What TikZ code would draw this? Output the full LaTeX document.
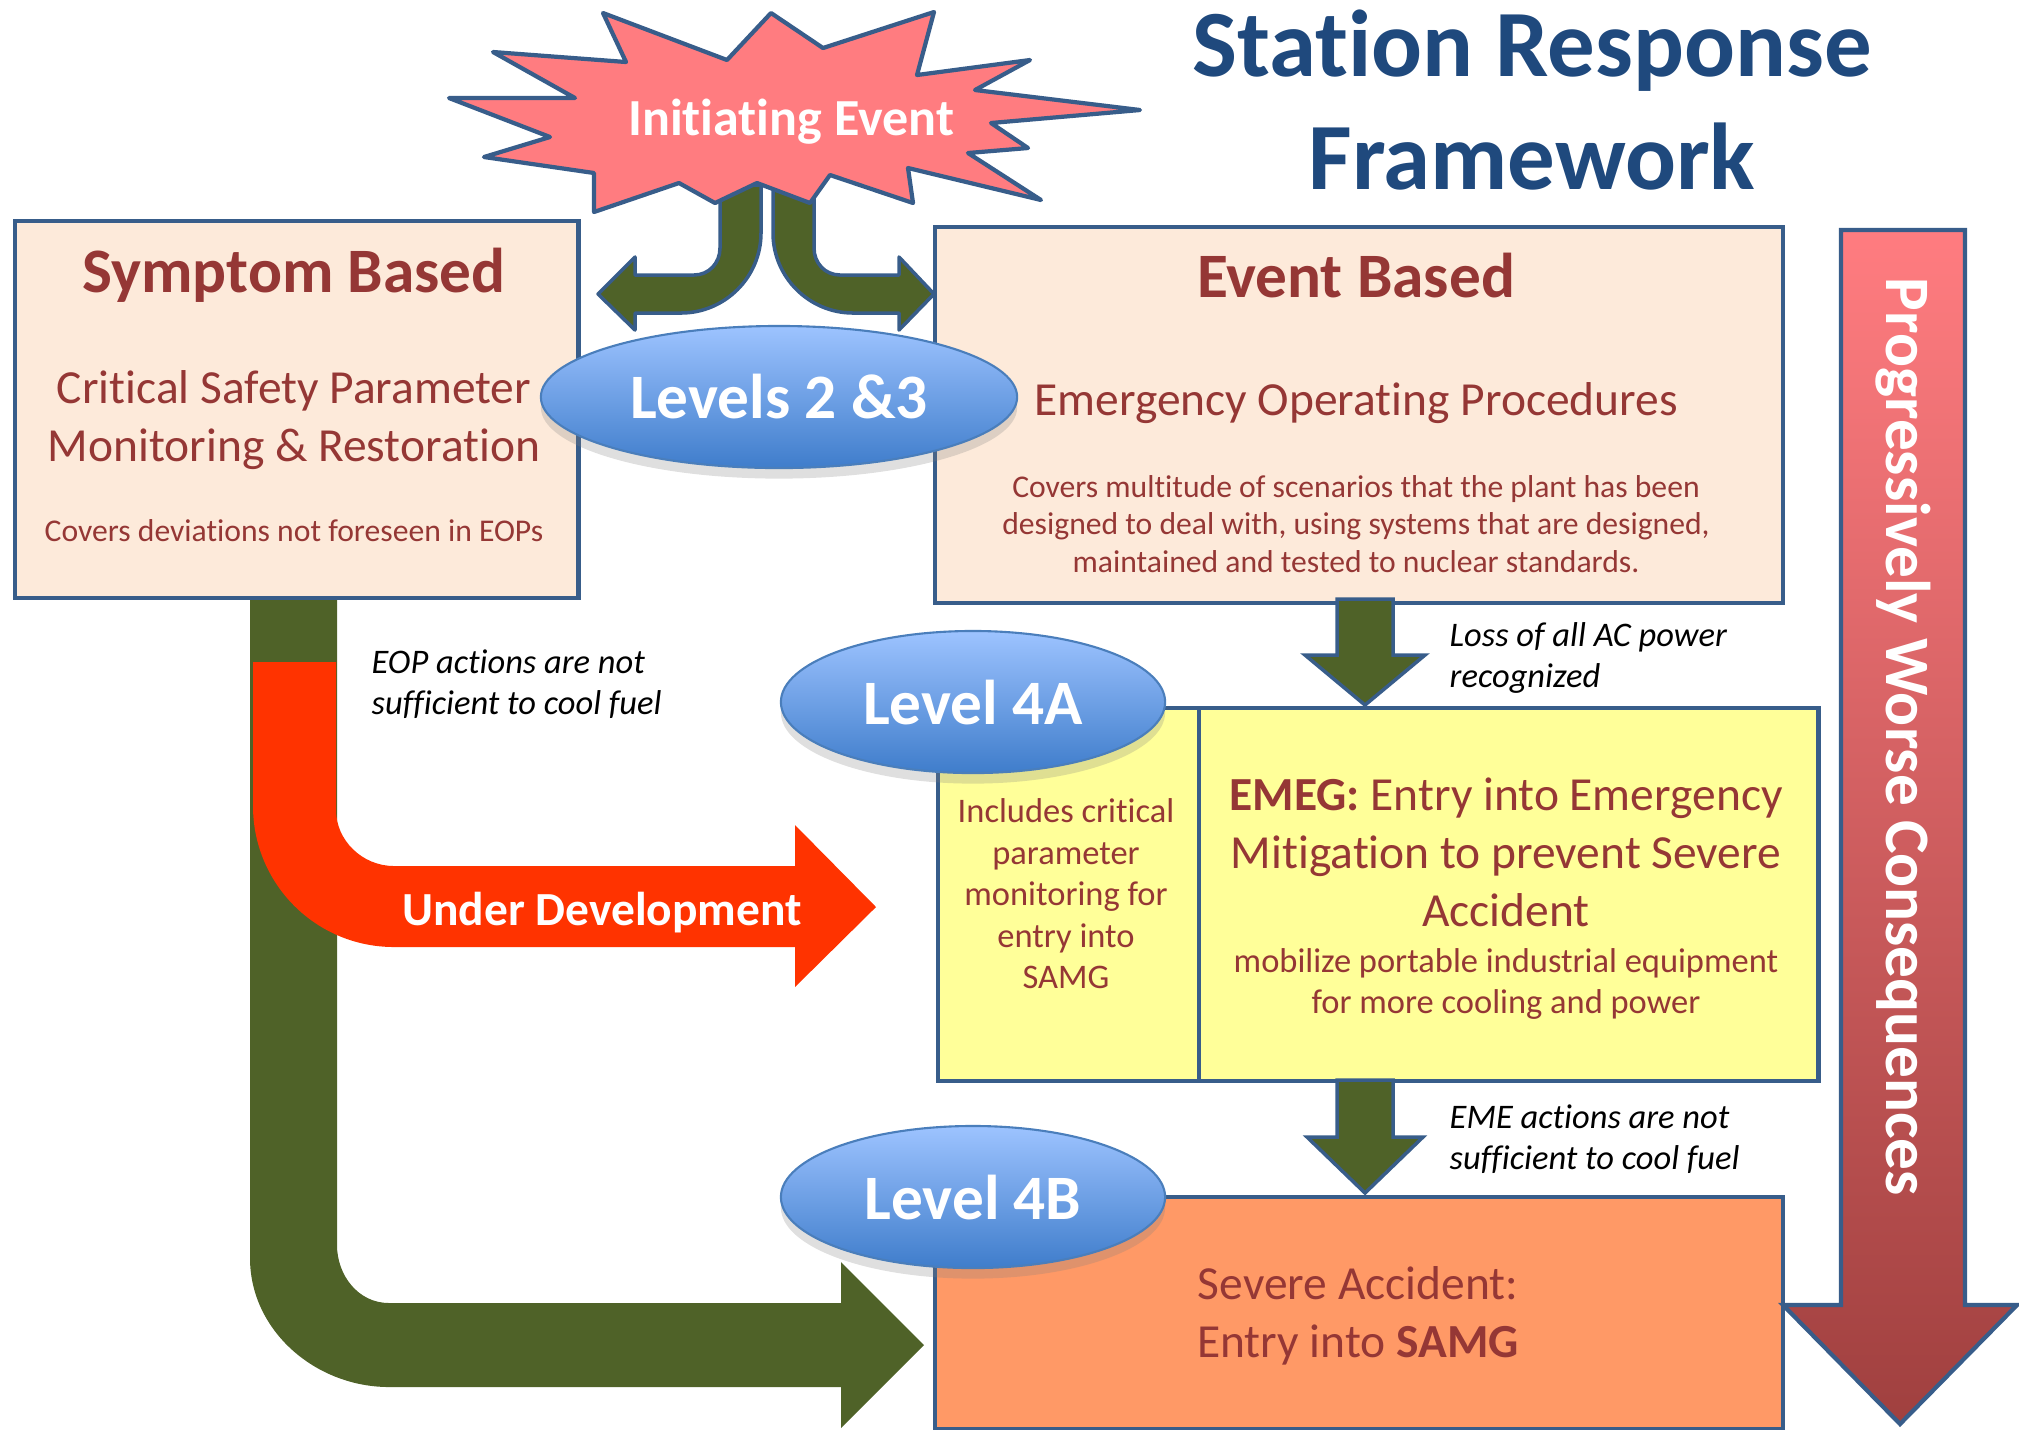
\documentclass[tikz,border=0pt]{standalone}
\usepackage{fontspec}
\setmainfont{Carlito}[Ligatures=NoCommon]
\usepackage{xcolor}
\usepackage{tikz}
\usetikzlibrary{shapes.geometric}
\usetikzlibrary{shadows}

\definecolor{boxline}{HTML}{385D8A}
\definecolor{peach}{HTML}{FDEADA}
\definecolor{textred}{HTML}{953735}
\definecolor{paleyellow}{HTML}{FFFF99}
\definecolor{samgorange}{HTML}{FF9966}
\definecolor{olive}{HTML}{4F6228}
\definecolor{devred}{HTML}{FF3300}
\definecolor{starpink}{HTML}{FF7C80}
\definecolor{titleblue}{HTML}{1F497D}
\definecolor{elltop}{HTML}{9DC3FF}
\definecolor{ellbot}{HTML}{3F7DCB}
\definecolor{ellline}{HTML}{4A7EBB}
\definecolor{worsebot}{HTML}{A0403F}

\begin{document}
\begin{tikzpicture}[x=0.01cm, y=-0.01cm,
		box/.style={draw=boxline, line width=1.2pt, anchor=north west, inner sep=0pt},
		levelbubble/.style={ellipse, draw=ellline, line width=0.6pt, top color=elltop, bottom color=ellbot, minimum height=1.42cm, text=white, font=\fontsize{18}{21}\selectfont\bfseries, drop shadow={shadow xshift=0pt, shadow yshift=-3pt, opacity=0.25}},
		greenarrow/.style={draw=boxline, line width=1pt, fill=olive, line join=round},
		bigtext/.style={font=\fontsize{18}{21}\selectfont\bfseries, text=textred, inner sep=0pt},
		medtext/.style={font=\fontsize{13.5}{16.5}\selectfont, text=textred, align=center, inner sep=0pt},
		smalltext/.style={font=\fontsize{9}{10.7}\selectfont, text=textred, align=center, inner sep=0pt},
		boxnote/.style={font=\fontsize{9.8}{11.8}\selectfont, text=textred, align=center, inner sep=0pt},
		sidenote/.style={font=\fontsize{9.8}{11.7}\selectfont\itshape, align=left, anchor=west, inner sep=0pt},
		whitetext/.style={text=white, font=\fontsize{13.5}{16.5}\selectfont\bfseries, inner sep=0pt}]
		\useasboundingbox (0,0) rectangle (2019,1429);

		\fill[olive] (250,590) -- (250,1258) .. controls (250,1331) and (316,1387) .. (389,1387) -- (841,1387) -- (841,1428) -- (924,1345) -- (841,1262) -- (841,1303) -- (389,1303) .. controls (358,1303) and (337,1275) .. (337,1245) -- (337,590) -- cycle;
		\fill[devred] (253,662) -- (253,806) .. controls (253,884) and (316,947) .. (394,947) -- (795,947) -- (795,987) -- (876,907) -- (795,825) -- (795,866) -- (394,866) .. controls (362,866) and (336,840) .. (336,810) -- (336,662) -- cycle;

		\node[box, fill=peach, minimum width=5.63cm, minimum height=3.77cm] (symptom) at (13,219) {};
		\node[box, fill=peach, minimum width=8.47cm, minimum height=3.76cm] (event) at (933,225) {};
		\node[box, fill=paleyellow, minimum width=2.61cm, minimum height=3.73cm] (emegleft) at (936,706) {};
		\node[box, fill=paleyellow, minimum width=6.19cm, minimum height=3.73cm] (emeg) at (1197,706) {};
		\node[box, fill=samgorange, minimum width=8.47cm, minimum height=2.32cm] (severe) at (933,1195) {};

		\draw[greenarrow] (761,185) -- (761,233) .. controls (761,277) and (725,313) .. (681,313) -- (635,313) -- (635,330) -- (598,294) -- (635,257) -- (635,275) -- (694,275) .. controls (709,275) and (720,263) .. (720,248) -- (720,185) -- cycle;
		\draw[greenarrow] (773,185) -- (773,233) .. controls (773,277) and (809,313) .. (853,313) -- (899,313) -- (899,330) -- (934,294) -- (899,257) -- (899,275) -- (840,275) .. controls (825,275) and (814,263) .. (814,248) -- (814,185) -- cycle;
		\draw[fill=starpink, draw=boxline, line width=1.2pt, line join=round] (603,13) -- (626,62) -- (493,52) -- (575,98) -- (449,98) -- (550,137) -- (484,157) -- (594,173) -- (594,212) -- (679,183) -- (715,203) -- (757,183) -- (810,203) -- (830,175) -- (913,203) -- (908,168) -- (1041,200) -- (968,153) -- (1028,148) -- (991,123) -- (1140,110) -- (975,90) -- (1030,60) -- (917,75) -- (934,12) -- (823,48) -- (771,13) -- (727,60) -- cycle;

		\draw[greenarrow, line join=miter] (1337,599) -- (1337,655) -- (1305,655) -- (1365,705) -- (1425,655) -- (1393,655) -- (1393,599) -- cycle;
		\draw[greenarrow, line join=miter] (1337,1080) -- (1337,1137) -- (1307,1137) -- (1365,1193) -- (1423,1137) -- (1393,1137) -- (1393,1080) -- cycle;

		\node[levelbubble, minimum width=4.76cm] (levels23) at (779,397) {Levels 2 \&3};
		\node[levelbubble, minimum width=3.84cm] (level4a) at (973,702) {Level 4A};
		\node[levelbubble, minimum width=3.84cm] (level4b) at (973,1197) {Level 4B};

		\draw[draw=boxline, line width=1.2pt, top color=starpink, bottom color=worsebot] (1841,230) -- (1841,1305) -- (1783,1305) -- (1900,1424) -- (2017,1305) -- (1965,1305) -- (1965,230) -- cycle;
		\node[rotate=-90, text=white, font=\fontsize{18}{21}\selectfont\bfseries] (worse) at (1903,737) {Progressively Worse Consequences};

		\node[font=\fontsize{27}{32.4}\selectfont\bfseries, text=titleblue, align=center] (title) at (1532,100) {Station Response\\Framework};
		\node[text=white, font=\fontsize{14.8}{17}\selectfont\bfseries, anchor=base] (initiating) at (791,135) {Initiating Event};

		\node[bigtext, anchor=base] (symptomtitle) at (294,292) {Symptom Based};
		\node[medtext] (csp) at (294,420) {Critical Safety Parameter\\Monitoring \& Restoration};
		\node[smalltext, anchor=base] (symptomnote) at (294,541) {Covers deviations not foreseen in EOPs};

		\node[bigtext, anchor=base] (eventtitle) at (1356,297) {Event Based};
		\node[medtext, anchor=base] (eop) at (1356,415) {Emergency Operating Procedures};
		\node[smalltext] (eventnote) at (1356,524) {Covers multitude of scenarios that the plant has been\\designed to deal with, using systems that are designed,\\maintained and tested to nuclear standards.};

		\node[sidenote] (eopfail) at (371,684) {EOP actions are not\\sufficient to cool fuel};
		\node[sidenote] (acloss) at (1449,658) {Loss of all AC power\\recognized};
		\node[sidenote] (emefail) at (1449,1139) {EME actions are not\\sufficient to cool fuel};

		\node[whitetext, anchor=base] (underdev) at (602,925) {Under Development};

		\node[boxnote] (includes) at (1066,894) {Includes critical\\parameter\\monitoring for\\entry into\\SAMG};
		\node[medtext] (emegtext) at (1506,852) {\textbf{EMEG:} Entry into Emergency\\Mitigation to prevent Severe\\Accident};
		\node[boxnote] (mobilize) at (1506,984) {mobilize portable industrial equipment\\for more cooling and power};

		\node[medtext] (samgtext) at (1358,1316) {Severe Accident:\\Entry into \textbf{SAMG}};
	\end{tikzpicture}
\end{document}
